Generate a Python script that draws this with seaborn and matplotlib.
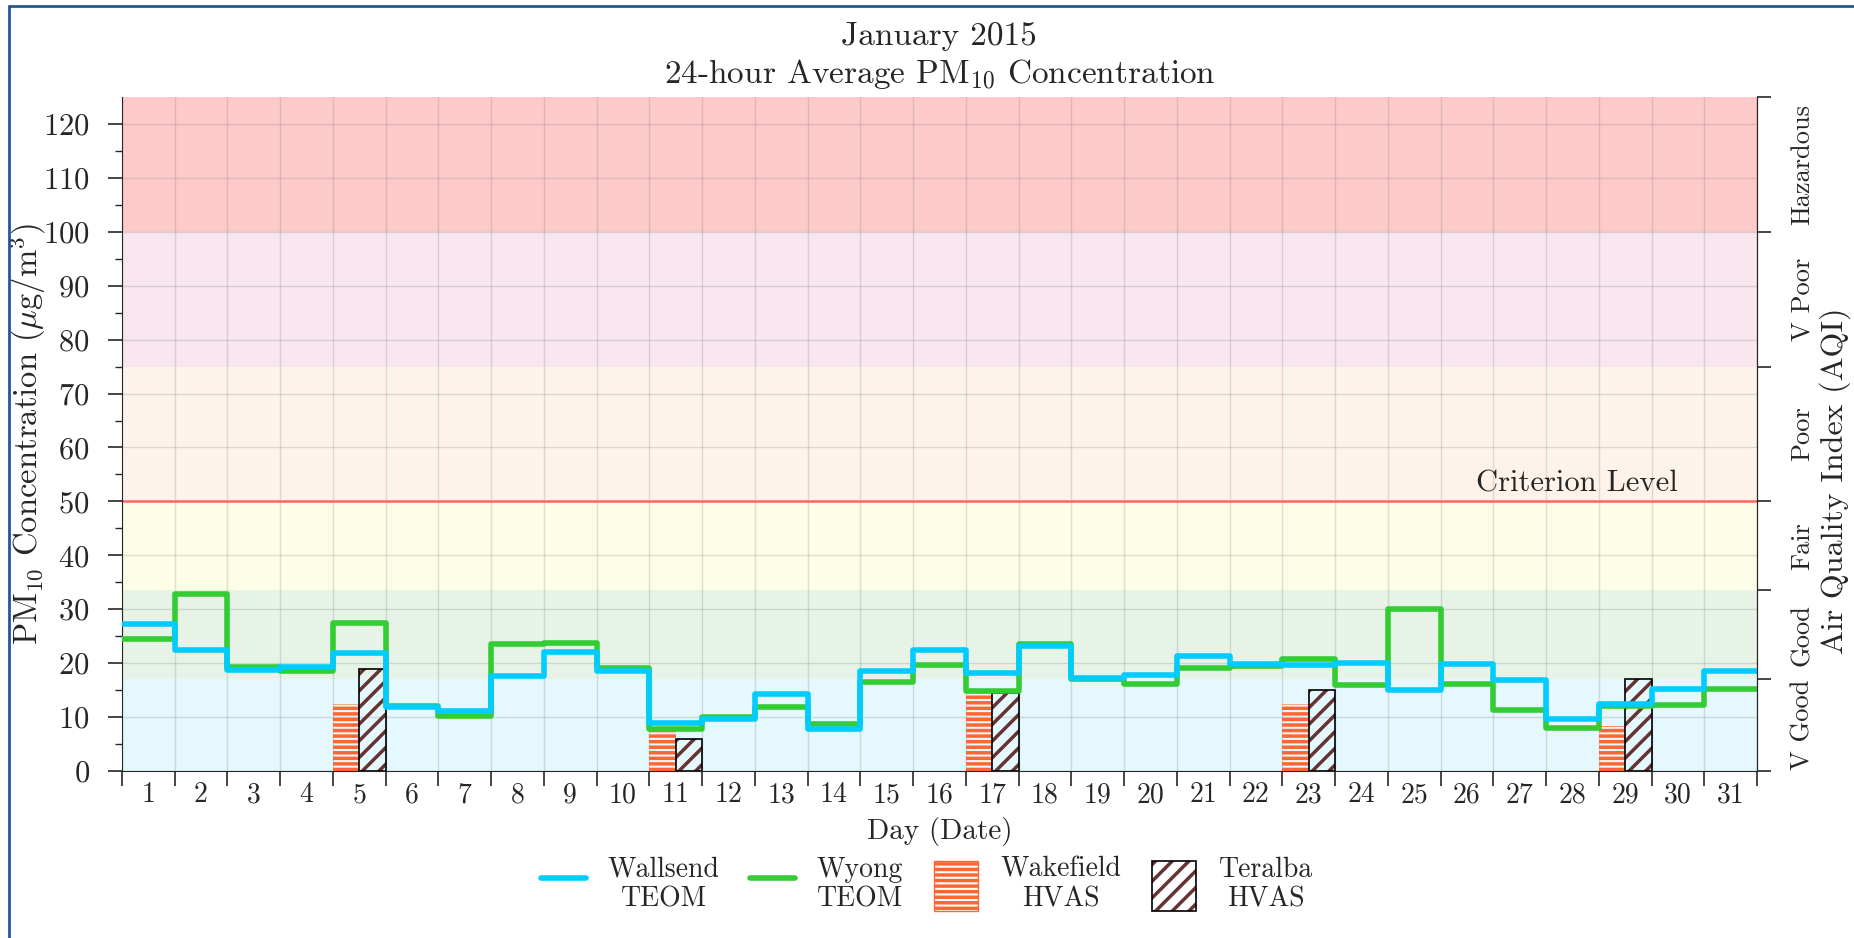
import numpy as np
import pandas as pd
import matplotlib
matplotlib.use("Agg")
import matplotlib.pyplot as plt
import matplotlib.lines as mlines
import matplotlib.patches as mpatches
import seaborn as sns

# daily data, January 2015
days = list(range(1, 32))
wallsend = [27.2, 22.5, 18.7, 19.3, 21.9, 11.9, 11.2, 17.7, 22.0, 18.6,
            9.0, 9.7, 14.3, 7.8, 18.5, 22.4, 18.2, 23.2, 17.2, 17.9,
            21.3, 19.9, 19.6, 20.1, 15.0, 19.8, 16.8, 9.7, 12.5, 15.3, 18.5]
wyong = [24.4, 32.9, 19.3, 18.5, 27.4, 12.0, 10.2, 23.5, 23.8, 19.1,
         7.8, 10.1, 11.8, 8.7, 16.6, 19.6, 14.8, 23.6, 17.1, 16.1,
         19.1, 19.5, 20.7, 15.9, 30.1, 16.2, 11.3, 8.0, 12.0, 12.3, 15.2]

hvas_days = [5, 11, 17, 23, 29]
wakefield = [12.5, 8.0, 14.5, 12.5, 8.3]
teralba = [19.0, 6.0, 14.5, 15.0, 17.0]

# AQI bands (ug/m3)
band_edges = [0, 17, 33.5, 50, 75, 100, 125]
band_names = ["V Good", "Good", "Fair", "Poor", "V Poor", "Hazardous"]
band_colors = ["#e5f8fd", "#e6f3e6", "#fefee6", "#fef3ea", "#f9e6ef", "#fdc9c9"]
criterion = 50

sns.set_style("ticks")
plt.rcParams["font.family"] = ["cmr10", "DejaVu Serif"]
plt.rcParams["mathtext.fontset"] = "cm"
plt.rcParams["axes.formatter.use_mathtext"] = True
plt.rcParams["hatch.linewidth"] = 2.5
plt.rcParams["font.size"] = 20

fig = plt.figure(figsize=(18.54, 9.38), dpi=100)
ax = fig.add_axes([0.0657, 0.178, 0.882, 0.7186])

# background bands
for lo, hi, c in zip(band_edges[:-1], band_edges[1:], band_colors):
    ax.axhspan(lo, hi, color=c, lw=0, zorder=0)

# step lines over day boundaries
edges = [d - 0.5 for d in days] + [days[-1] + 0.5]
df = pd.DataFrame({
    "x": edges * 2,
    "y": wyong + [wyong[-1]] + wallsend + [wallsend[-1]],
    "site": ["Wyong"] * len(edges) + ["Wallsend"] * len(edges),
})
sns.lineplot(data=df, x="x", y="y", hue="site",
             palette={"Wyong": "#33cc33", "Wallsend": "#00ccff"},
             drawstyle="steps-post", lw=4, legend=False, ax=ax, zorder=4)

# HVAS bars, left and right half of the day
wk_x = [d - 0.25 for d in hvas_days]
te_x = [d + 0.25 for d in hvas_days]
ax.bar(wk_x, wakefield, width=0.5, facecolor="none", edgecolor="#ff6633",
       hatch="---", lw=0, zorder=3)
ax.bar(te_x, teralba, width=0.5, facecolor="none", edgecolor="#663333",
       hatch="//", lw=0, zorder=3)
ax.bar(te_x, teralba, width=0.5, fill=False, edgecolor="black", lw=1.2, zorder=3)

ax.axhline(criterion, color="#ff6666", lw=1.8, zorder=2)
ax.text(30, criterion + 0.8, "Criterion Level", ha="right", va="bottom", fontsize=22)

ax.set_xlim(0.5, 31.5)
ax.set_ylim(0, 125)
ax.set_xticks(edges)
ax.set_xticklabels([])
ax.set_xticks(days, minor=True)
ax.set_xticklabels([str(d) for d in days], minor=True)
ax.tick_params(axis="x", which="major", length=11, width=1.2)
ax.tick_params(axis="x", which="minor", length=0, pad=8)
ax.set_yticks(np.arange(0, 121, 10))
ax.set_yticks(np.arange(5, 125, 10), minor=True)
ax.tick_params(axis="y", which="major", length=10, width=1.2, labelsize=22, pad=13)
ax.tick_params(axis="y", which="minor", length=5, width=1.0)
ax.grid(True, which="major", color="gray", alpha=0.25, lw=1)
for gl in ax.get_xgridlines() + ax.get_ygridlines():
    gl.set_zorder(1)
ax.set_xlabel("Day (Date)", fontsize=21, labelpad=6)
ax.set_ylabel(r"PM$_{10}$ Concentration ($\mu$g/m$^3$)", fontsize=23.5)
ax.yaxis.set_label_coords(-0.045, 0.5)
ax.spines["top"].set_visible(False)

# right AQI axis
ax2 = ax.twinx()
ax2.set_ylim(0, 125)
ax2.set_yticks(band_edges)
ax2.set_yticklabels([])
centers = [(lo + hi) / 2 for lo, hi in zip(band_edges[:-1], band_edges[1:])]
ax2.set_yticks(centers, minor=True)
ax2.set_yticklabels(band_names, minor=True, rotation=90, va="center", fontsize=19)
ax2.tick_params(axis="y", which="major", length=10, width=1.2)
ax2.tick_params(axis="y", which="minor", length=0, pad=24)
ax2.set_ylabel("Air Quality Index (AQI)", fontsize=23)
ax2.yaxis.set_label_coords(1.038, 0.43)
for s in ["top", "left", "bottom"]:
    ax2.spines[s].set_visible(False)

ax.set_title("January 2015\n24-hour Average PM$_{10}$ Concentration",
             fontsize=24, pad=10, linespacing=1.25)

handles = [
    mlines.Line2D([], [], color="#00ccff", lw=4, solid_capstyle="round"),
    mlines.Line2D([], [], color="#33cc33", lw=4, solid_capstyle="round"),
    mpatches.Patch(facecolor="white", edgecolor="#ff6633", hatch="---", lw=1),
    (mpatches.Patch(facecolor="white", edgecolor="#663333", hatch="//", lw=0),
     mpatches.Patch(fill=False, edgecolor="black", lw=1.2)),
]
labels = ["Wallsend\nTEOM", "Wyong\nTEOM", "Wakefield\nHVAS", "Teralba\nHVAS"]
leg = fig.legend(handles, labels, loc="center", bbox_to_anchor=(0.5, 0.057),
                 ncol=4, frameon=False, handlelength=1.6, handleheight=2.4,
                 handletextpad=0.8, columnspacing=1.1, fontsize=20)
for t in leg.get_texts():
    t.set_multialignment("center")

# figure frame (left and top edges visible)
fig.add_artist(mlines.Line2D([0.005, 0.005], [0, 0.9936], transform=fig.transFigure,
                             color="#1f5a96", lw=2))
fig.add_artist(mlines.Line2D([0.005, 1], [0.9936, 0.9936], transform=fig.transFigure,
                             color="#1f5a96", lw=2))

fig.savefig("out.png", dpi=100)
plt.close(fig)
